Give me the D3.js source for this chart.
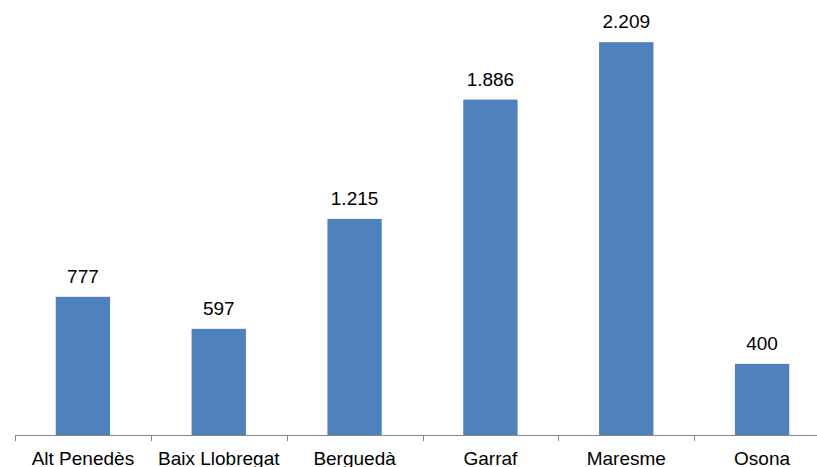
<!DOCTYPE html>
<html>
<head>
<meta charset="utf-8">
<script src="https://cdn.jsdelivr.net/npm/d3@7"></script>
<style>
  body { margin: 0; background: #fff; }
  svg text { font-family: "Liberation Sans", Arial, sans-serif; fill: #000; }
</style>
</head>
<body>
<div id="main"></div>
<script>
// data
var categories = ["Alt Penedès", "Baix Llobregat", "Berguedà", "Garraf", "Maresme", "Osona"];
var values = [777, 597, 1215, 1886, 2209, 400];
var valueLabels = ["777", "597", "1.215", "1.886", "2.209", "400"];

var width = 817, height = 467;

var svg = d3.select("#main").append("svg")
    .attr("width", width)
    .attr("height", height);

// x scale spans a bit beyond the right edge, as in the original crop
var x = d3.scaleBand()
    .domain(categories)
    .range([15, 830])
    .paddingInner(0.6)
    .paddingOuter(0.3);

var y = d3.scaleLinear()
    .domain([0, 2500])
    .range([435, -9.6]);

// bars
svg.selectAll(".bar")
    .data(values)
    .enter().append("rect")
    .attr("class", "bar")
    .attr("x", function(d, i) { return x(categories[i]); })
    .attr("y", function(d) { return y(d); })
    .attr("width", x.bandwidth())
    .attr("height", function(d) { return y(0) - y(d); })
    .style("fill", "#4F81BD");

// value labels
svg.selectAll(".val")
    .data(values)
    .enter().append("text")
    .attr("class", "val")
    .attr("x", function(d, i) { return x(categories[i]) + x.bandwidth() / 2; })
    .attr("y", function(d) { return y(d) - 14; })
    .attr("text-anchor", "middle")
    .style("font-size", "19px")
    .text(function(d, i) { return valueLabels[i]; });

// axis line and ticks at category boundaries
var step = x.step();
var bounds = d3.range(categories.length + 1).map(function(i) { return 15 + i * (815 / categories.length); });

svg.append("line")
    .attr("x1", 15).attr("x2", 830)
    .attr("y1", 435.5).attr("y2", 435.5)
    .style("stroke", "#868686")
    .style("stroke-width", 1);

svg.selectAll(".tick")
    .data(bounds)
    .enter().append("line")
    .attr("class", "tick")
    .attr("x1", function(d) { return Math.round(d) + 0.5; })
    .attr("x2", function(d) { return Math.round(d) + 0.5; })
    .attr("y1", 435).attr("y2", 441)
    .style("stroke", "#868686");

// category labels
svg.selectAll(".cat")
    .data(categories)
    .enter().append("text")
    .attr("class", "cat")
    .attr("x", function(d) { return x(d) + x.bandwidth() / 2; })
    .attr("y", 465)
    .attr("text-anchor", "middle")
    .style("font-size", "19px")
    .text(function(d) { return d; });
</script>
</body>
</html>
